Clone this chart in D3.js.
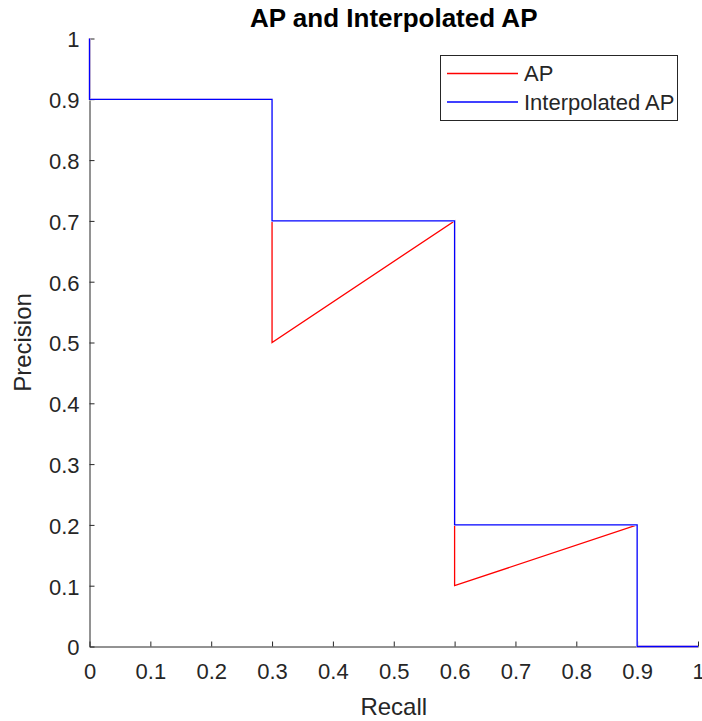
<!DOCTYPE html>
<html><head><meta charset="utf-8">
<script src="https://cdn.jsdelivr.net/npm/d3@7"></script>
<style>body{margin:0;background:#fff}svg{display:block}text{font-family:"Liberation Sans",Arial,sans-serif}</style>
</head><body>
<script>
const apRecall = [0, 0, 0.3, 0.3, 0.6, 0.6, 0.9, 0.9, 1];
const apPrecision = [1, 0.9, 0.9, 0.5, 0.7, 0.1, 0.2, 0, 0];
const interpRecall = [0, 0, 0.3, 0.3, 0.6, 0.6, 0.9, 0.9, 1];
const interpPrecision = [1, 0.9, 0.9, 0.7, 0.7, 0.2, 0.2, 0, 0];
const tickValues = [0, 0.1, 0.2, 0.3, 0.4, 0.5, 0.6, 0.7, 0.8, 0.9, 1];
const tickLabels = ["0", "0.1", "0.2", "0.3", "0.4", "0.5", "0.6", "0.7", "0.8", "0.9", "1"];
const seriesNames = ["AP", "Interpolated AP"];
const seriesColors = ["#ff0000", "#0000ff"];

const W = 702, H = 721;
const svg = d3.select("body").append("svg").attr("width", W).attr("height", H);
const x = d3.scaleLinear().domain([0, 1]).range([89.5, 698]);
const y = d3.scaleLinear().domain([0, 1]).range([646.5, 38.5]);
const axisColor = "#262626";

// axes
const xAxis = d3.axisBottom(x).tickValues(tickValues).tickFormat((d, i) => tickLabels[i]).tickSizeInner(-5).tickSizeOuter(0).tickPadding(12);
const gx = svg.append("g").attr("transform", `translate(0,${y(0)})`).call(xAxis);
const yAxis = d3.axisLeft(y).tickValues(tickValues).tickFormat((d, i) => tickLabels[i]).tickSizeInner(-5).tickSizeOuter(0).tickPadding(10);
const gy = svg.append("g").attr("transform", `translate(${x(0)},0)`).call(yAxis);
[gx, gy].forEach(g => {
  g.select(".domain").attr("stroke", axisColor).attr("stroke-width", 1);
  g.selectAll(".tick line").attr("stroke", axisColor).attr("stroke-width", 1);
  g.selectAll(".tick text").attr("fill", axisColor).style("font-size", "22px").style("font-family", "Liberation Sans, Arial, sans-serif");
});
gx.selectAll(".tick text").attr("dy", "0.95em");
gy.selectAll(".tick text").attr("dy", "0.38em");

// lines
const line = d3.line().x(d => x(d[0])).y(d => y(d[1]));
const apData = apRecall.map((r, i) => [r, apPrecision[i]]);
const inData = interpRecall.map((r, i) => [r, interpPrecision[i]]);
svg.append("path").datum(apData).attr("d", line).attr("fill", "none").attr("stroke", seriesColors[0]).attr("stroke-width", 1.3);
svg.append("path").datum(inData).attr("d", line).attr("fill", "none").attr("stroke", "#fff").attr("stroke-width", 2.2);
svg.append("path").datum(inData).attr("d", line).attr("fill", "none").attr("stroke", seriesColors[1]).attr("stroke-width", 1.3);

// title & labels
svg.append("text").attr("x", (x(0) + x(1)) / 2).attr("y", 27).attr("text-anchor", "middle")
  .style("font-size", "26px").style("font-weight", "bold").attr("fill", "#000").text("AP and Interpolated AP");
svg.append("text").attr("x", (x(0) + x(1)) / 2).attr("y", 715).attr("text-anchor", "middle")
  .style("font-size", "24px").attr("fill", axisColor).text("Recall");
svg.append("text").attr("transform", `translate(31,${(y(0) + y(1)) / 2}) rotate(-90)`).attr("text-anchor", "middle")
  .style("font-size", "24px").attr("fill", axisColor).text("Precision");

// legend
const lg = svg.append("g");
lg.append("rect").attr("x", 440.5).attr("y", 55.5).attr("width", 237).attr("height", 65)
  .attr("fill", "#fff").attr("stroke", axisColor).attr("stroke-width", 1);
seriesNames.forEach((name, i) => {
  const yy = 73.5 + i * 28.5;
  lg.append("line").attr("x1", 447).attr("x2", 518).attr("y1", yy).attr("y2", yy)
    .attr("stroke", seriesColors[i]).attr("stroke-width", 1.3);
  lg.append("text").attr("x", 524).attr("y", yy).attr("dy", "0.36em")
    .style("font-size", "22px").attr("fill", axisColor).text(name);
});
</script>
</body></html>
